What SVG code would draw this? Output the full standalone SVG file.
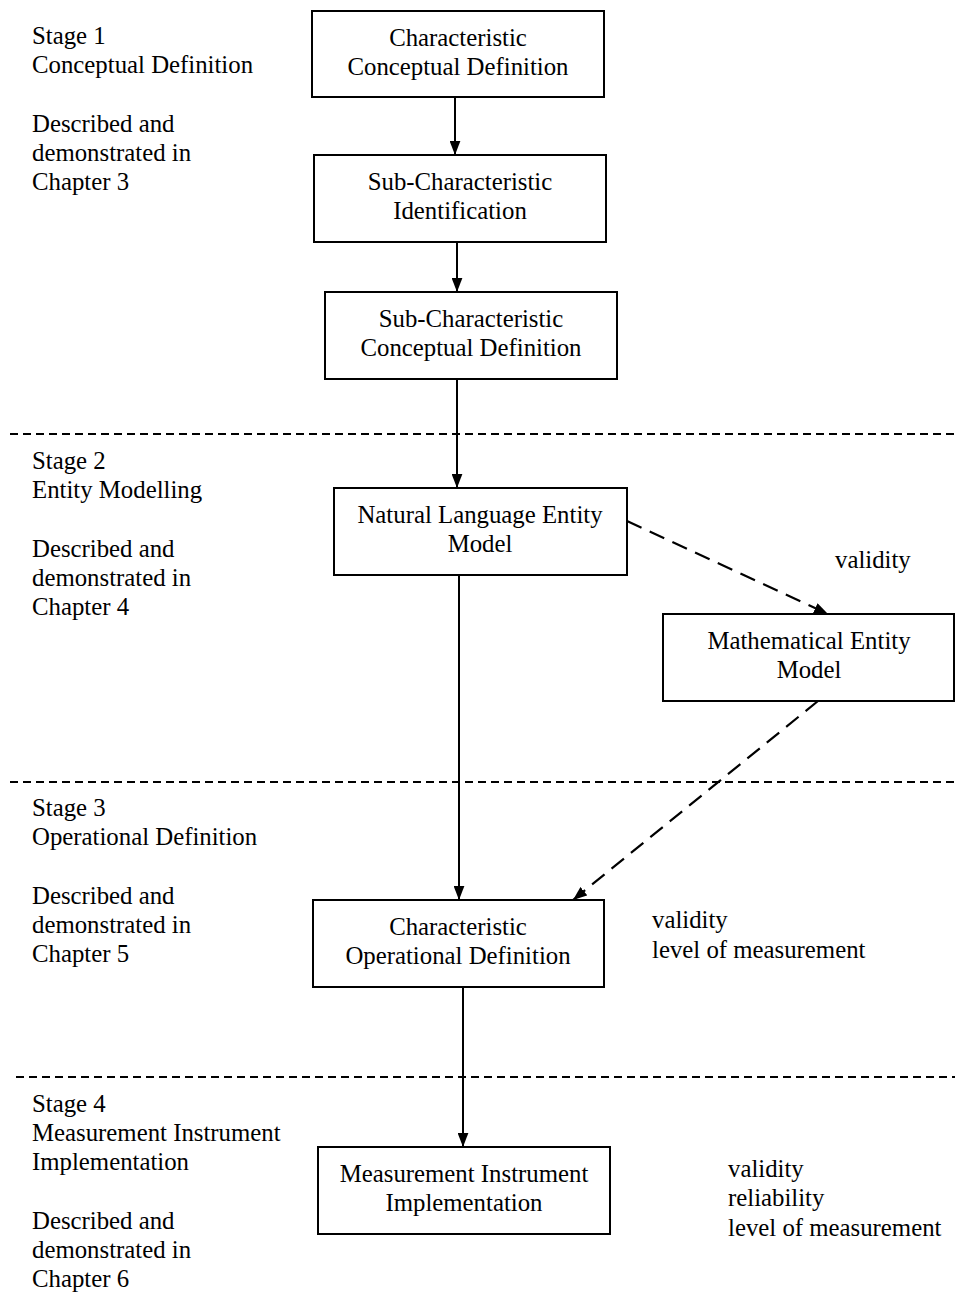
<svg xmlns="http://www.w3.org/2000/svg" width="955" height="1292" viewBox="0 0 955 1292">
  <style>
    text { font-family: "Liberation Serif", "Times New Roman", serif; font-size: 24.8px; fill: #000; }
    .c { text-anchor: middle; }
    .box { fill: #fff; stroke: #000; stroke-width: 2; }
    .sep { stroke: #000; stroke-width: 2; stroke-dasharray: 8 5; fill: none; }
    .solid { stroke: #000; stroke-width: 2; fill: none; marker-end: url(#head); }
    .dash { stroke: #000; stroke-width: 2.2; stroke-dasharray: 16 9; fill: none; marker-end: url(#head); }
  </style>
  <defs>
    <marker id="head" viewBox="0 0 13 10" refX="13" refY="5" markerWidth="14" markerHeight="11" markerUnits="userSpaceOnUse" orient="auto">
      <path d="M0,0 L13,5 L0,10 z" fill="#000"/>
    </marker>
  </defs>
  <rect width="955" height="1292" fill="#fff"/>

  <!-- stage separators -->
  <g id="separators">
    <line class="sep" x1="10" y1="434" x2="955" y2="434"/>
    <line class="sep" x1="10" y1="782" x2="955" y2="782"/>
    <line class="sep" x1="16" y1="1077" x2="955" y2="1077"/>
  </g>

  <!-- stage descriptions -->
  <g id="stage-labels">
    <text x="32" y="44">Stage 1</text>
    <text x="32" y="73">Conceptual Definition</text>
    <text x="32" y="132">Described and</text>
    <text x="32" y="161">demonstrated in</text>
    <text x="32" y="190">Chapter 3</text>

    <text x="32" y="469">Stage 2</text>
    <text x="32" y="498">Entity Modelling</text>
    <text x="32" y="557">Described and</text>
    <text x="32" y="586">demonstrated in</text>
    <text x="32" y="615">Chapter 4</text>

    <text x="32" y="816">Stage 3</text>
    <text x="32" y="845">Operational Definition</text>
    <text x="32" y="904">Described and</text>
    <text x="32" y="933">demonstrated in</text>
    <text x="32" y="962">Chapter 5</text>

    <text x="32" y="1112">Stage 4</text>
    <text x="32" y="1141">Measurement Instrument</text>
    <text x="32" y="1170">Implementation</text>
    <text x="32" y="1229">Described and</text>
    <text x="32" y="1258">demonstrated in</text>
    <text x="32" y="1287">Chapter 6</text>
  </g>

  <!-- connectors -->
  <g id="connectors">
    <line class="solid" x1="455" y1="97" x2="455" y2="155"/>
    <line class="solid" x1="457" y1="242" x2="457" y2="292"/>
    <line class="solid" x1="457" y1="379" x2="457" y2="488"/>
    <line class="solid" x1="459" y1="575" x2="459" y2="900"/>
    <line class="solid" x1="463" y1="987" x2="463" y2="1147"/>
    <line class="dash" x1="627" y1="521" x2="828" y2="614"/>
    <line class="dash" x1="818" y1="701" x2="573" y2="900"/>
  </g>

  <g id="n1">
    <rect class="box" x="312" y="11" width="292" height="86"/>
    <text class="c" x="458" y="46">Characteristic</text>
    <text class="c" x="458" y="75">Conceptual Definition</text>
  </g>
  <g id="n2">
    <rect class="box" x="314" y="155" width="292" height="87"/>
    <text class="c" x="460" y="190">Sub-Characteristic</text>
    <text class="c" x="460" y="219">Identification</text>
  </g>
  <g id="n3">
    <rect class="box" x="325" y="292" width="292" height="87"/>
    <text class="c" x="471" y="327">Sub-Characteristic</text>
    <text class="c" x="471" y="356">Conceptual Definition</text>
  </g>
  <g id="n4">
    <rect class="box" x="334" y="488" width="293" height="87"/>
    <text class="c" x="480" y="523">Natural Language Entity</text>
    <text class="c" x="480" y="552">Model</text>
  </g>
  <g id="n5">
    <rect class="box" x="663" y="614" width="291" height="87"/>
    <text class="c" x="809" y="649">Mathematical Entity</text>
    <text class="c" x="809" y="678">Model</text>
  </g>
  <g id="n6">
    <rect class="box" x="313" y="900" width="291" height="87"/>
    <text class="c" x="458" y="935">Characteristic</text>
    <text class="c" x="458" y="964">Operational Definition</text>
  </g>
  <g id="n7">
    <rect class="box" x="318" y="1147" width="292" height="87"/>
    <text class="c" x="464" y="1182">Measurement Instrument</text>
    <text class="c" x="464" y="1211">Implementation</text>
  </g>

  <!-- quality notes -->
  <g id="notes">
    <text x="835" y="568">validity</text>
    <text x="652" y="928">validity</text>
    <text x="652" y="958">level of measurement</text>
    <text x="728" y="1177">validity</text>
    <text x="728" y="1206">reliability</text>
    <text x="728" y="1236">level of measurement</text>
  </g>
</svg>
